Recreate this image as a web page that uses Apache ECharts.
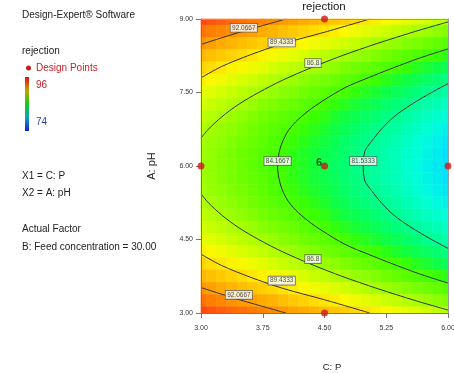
<!DOCTYPE html>
<html>
<head>
<meta charset="utf-8">
<script src="https://cdn.jsdelivr.net/npm/echarts@6/dist/echarts.min.js"></script>
<style>
  html, body { margin: 0; padding: 0; background: #fff; }
  #chart { width: 454px; height: 373px; }
</style>
</head>
<body>
<div id="chart"></div>
<script>
// response surface (rows = pH from 9 down to 3, cols = P from 3 to 6)
const pLevels = [3, 3.125, 3.25, 3.375, 3.5, 3.625, 3.75, 3.875, 4, 4.125, 4.25, 4.375, 4.5,
  4.625, 4.75, 4.875, 5, 5.125, 5.25, 5.375, 5.5, 5.625, 5.75, 5.875, 6];
const phLevels = [9, 8.75, 8.5, 8.25, 8, 7.75, 7.5, 7.25, 7, 6.75, 6.5, 6.25, 6,
  5.75, 5.5, 5.25, 5, 4.75, 4.5, 4.25, 4, 3.75, 3.5, 3.25, 3];
const rejection = [
  [94.7,94.3,94.0,93.7,93.4,93.1,92.8,92.5,92.1,91.8,91.5,91.2,90.9,90.6,90.3,90.0,89.6,89.3,89.0,88.7,88.4,88.1,87.8,87.4,87.1],
  [93.4,93.0,92.7,92.4,92.1,91.8,91.5,91.2,90.8,90.5,90.2,89.9,89.6,89.3,89.0,88.7,88.3,88.0,87.7,87.4,87.1,86.8,86.5,86.1,85.8],
  [92.2,91.9,91.5,91.2,90.9,90.6,90.3,90.0,89.7,89.3,89.0,88.7,88.4,88.1,87.8,87.5,87.1,86.8,86.5,86.2,85.9,85.6,85.3,85.0,84.6],
  [91.1,90.8,90.5,90.2,89.8,89.5,89.2,88.9,88.6,88.3,88.0,87.6,87.3,87.0,86.7,86.4,86.1,85.8,85.4,85.1,84.8,84.5,84.2,83.9,83.6],
  [90.1,89.8,89.5,89.2,88.9,88.6,88.3,87.9,87.6,87.3,87.0,86.7,86.4,86.1,85.7,85.4,85.1,84.8,84.5,84.2,83.9,83.5,83.2,82.9,82.6],
  [89.3,89.0,88.7,88.3,88.0,87.7,87.4,87.1,86.8,86.5,86.1,85.8,85.5,85.2,84.9,84.6,84.3,84.0,83.6,83.3,83.0,82.7,82.4,82.1,81.8],
  [88.5,88.2,87.9,87.6,87.3,87.0,86.7,86.4,86.0,85.7,85.4,85.1,84.8,84.5,84.2,83.8,83.5,83.2,82.9,82.6,82.3,82.0,81.6,81.3,81.0],
  [87.9,87.6,87.3,87.0,86.7,86.4,86.0,85.7,85.4,85.1,84.8,84.5,84.2,83.8,83.5,83.2,82.9,82.6,82.3,82.0,81.7,81.3,81.0,80.7,80.4],
  [87.4,87.1,86.8,86.5,86.2,85.8,85.5,85.2,84.9,84.6,84.3,84.0,83.7,83.3,83.0,82.7,82.4,82.1,81.8,81.5,81.1,80.8,80.5,80.2,79.9],
  [87.0,86.7,86.4,86.1,85.8,85.4,85.1,84.8,84.5,84.2,83.9,83.6,83.3,82.9,82.6,82.3,82.0,81.7,81.4,81.1,80.7,80.4,80.1,79.8,79.5],
  [86.7,86.4,86.1,85.8,85.5,85.2,84.9,84.5,84.2,83.9,83.6,83.3,83.0,82.7,82.3,82.0,81.7,81.4,81.1,80.8,80.5,80.1,79.8,79.5,79.2],
  [86.6,86.3,85.9,85.6,85.3,85.0,84.7,84.4,84.1,83.7,83.4,83.1,82.8,82.5,82.2,81.9,81.5,81.2,80.9,80.6,80.3,80.0,79.7,79.4,79.0],
  [86.5,86.2,85.9,85.6,85.3,84.9,84.6,84.3,84.0,83.7,83.4,83.1,82.8,82.4,82.1,81.8,81.5,81.2,80.9,80.6,80.2,79.9,79.6,79.3,79.0],
  [86.6,86.3,85.9,85.6,85.3,85.0,84.7,84.4,84.1,83.7,83.4,83.1,82.8,82.5,82.2,81.9,81.5,81.2,80.9,80.6,80.3,80.0,79.7,79.4,79.0],
  [86.7,86.4,86.1,85.8,85.5,85.2,84.9,84.5,84.2,83.9,83.6,83.3,83.0,82.7,82.3,82.0,81.7,81.4,81.1,80.8,80.5,80.1,79.8,79.5,79.2],
  [87.0,86.7,86.4,86.1,85.8,85.4,85.1,84.8,84.5,84.2,83.9,83.6,83.3,82.9,82.6,82.3,82.0,81.7,81.4,81.1,80.7,80.4,80.1,79.8,79.5],
  [87.4,87.1,86.8,86.5,86.2,85.8,85.5,85.2,84.9,84.6,84.3,84.0,83.7,83.3,83.0,82.7,82.4,82.1,81.8,81.5,81.1,80.8,80.5,80.2,79.9],
  [87.9,87.6,87.3,87.0,86.7,86.4,86.0,85.7,85.4,85.1,84.8,84.5,84.2,83.8,83.5,83.2,82.9,82.6,82.3,82.0,81.7,81.3,81.0,80.7,80.4],
  [88.5,88.2,87.9,87.6,87.3,87.0,86.7,86.4,86.0,85.7,85.4,85.1,84.8,84.5,84.2,83.8,83.5,83.2,82.9,82.6,82.3,82.0,81.6,81.3,81.0],
  [89.3,89.0,88.7,88.3,88.0,87.7,87.4,87.1,86.8,86.5,86.1,85.8,85.5,85.2,84.9,84.6,84.3,84.0,83.6,83.3,83.0,82.7,82.4,82.1,81.8],
  [90.1,89.8,89.5,89.2,88.9,88.6,88.3,87.9,87.6,87.3,87.0,86.7,86.4,86.1,85.7,85.4,85.1,84.8,84.5,84.2,83.9,83.5,83.2,82.9,82.6],
  [91.1,90.8,90.5,90.2,89.8,89.5,89.2,88.9,88.6,88.3,88.0,87.6,87.3,87.0,86.7,86.4,86.1,85.8,85.4,85.1,84.8,84.5,84.2,83.9,83.6],
  [92.2,91.9,91.5,91.2,90.9,90.6,90.3,90.0,89.7,89.3,89.0,88.7,88.4,88.1,87.8,87.5,87.1,86.8,86.5,86.2,85.9,85.6,85.3,85.0,84.6],
  [93.4,93.0,92.7,92.4,92.1,91.8,91.5,91.2,90.8,90.5,90.2,89.9,89.6,89.3,89.0,88.7,88.3,88.0,87.7,87.4,87.1,86.8,86.5,86.1,85.8],
  [94.7,94.3,94.0,93.7,93.4,93.1,92.8,92.5,92.1,91.8,91.5,91.2,90.9,90.6,90.3,90.0,89.6,89.3,89.0,88.7,88.4,88.1,87.8,87.4,87.1]
];

// contour lines, [P, pH]
const contourPaths = [
  // 92.0667
  [[3.0, 8.48], [3.22, 8.6], [3.51, 8.75], [3.82, 8.9], [4.03, 9.0]],
  [[3.0, 3.52], [3.22, 3.4], [3.51, 3.25], [3.82, 3.1], [4.03, 3.0]],
  // 89.4333
  [[3.0, 7.8], [3.25, 8.03], [3.6, 8.27], [4.0, 8.5], [4.5, 8.73], [5.05, 9.0]],
  [[3.0, 4.2], [3.25, 3.97], [3.6, 3.73], [4.0, 3.5], [4.5, 3.27], [5.05, 3.0]],
  // 86.8
  [[6.0, 8.94], [5.61, 8.75], [5.14, 8.5], [4.71, 8.25], [4.33, 8.0], [3.99, 7.75],
   [3.7, 7.5], [3.45, 7.25], [3.25, 7.0], [3.09, 6.75], [3.0, 6.57]],
  [[3.0, 5.43], [3.09, 5.25], [3.25, 5.0], [3.45, 4.75], [3.7, 4.5], [3.99, 4.25],
   [4.33, 4.0], [4.71, 3.75], [5.14, 3.5], [5.61, 3.25], [6.0, 3.06]],
  // 84.1667
  [[6.0, 8.39], [5.65, 8.2], [5.3, 7.98], [5.03, 7.8], [4.75, 7.6], [4.48, 7.33],
   [4.3, 7.12], [4.15, 6.9], [4.04, 6.67], [3.96, 6.35], [3.93, 6.0], [3.96, 5.65],
   [4.04, 5.33], [4.15, 5.1], [4.3, 4.88], [4.48, 4.67], [4.75, 4.4], [5.03, 4.2],
   [5.3, 4.02], [5.65, 3.8], [6.0, 3.61]],
  // 81.5333
  [[6.0, 7.68], [5.8, 7.5], [5.55, 7.25], [5.34, 7.0], [5.19, 6.75], [5.07, 6.5],
   [4.99, 6.3], [4.97, 6.0], [4.99, 5.7], [5.07, 5.5], [5.19, 5.25], [5.34, 5.0],
   [5.55, 4.75], [5.8, 4.5], [6.0, 4.32]]
];

// contour labels [P, pH, text]
const contourLabels = [
  [3.52, 8.82, '92.0667'], [3.46, 3.37, '92.0667'],
  [3.98, 8.52, '89.4333'], [3.98, 3.66, '89.4333'],
  [4.36, 8.1, '86.8'], [4.36, 4.1, '86.8'],
  [3.93, 6.1, '84.1667'], [4.97, 6.1, '81.5333']
];

// design points [P, pH, runs]
const designPoints = [[3, 6, 1], [4.5, 9, 1], [4.5, 6, 6], [6, 6, 1], [4.5, 3, 1]];

const pTicks = { min: 3, max: 6, step: 0.75 };
const phTicks = { min: 3, max: 9, step: 1.5 };

// one colour per unit from 74 to 96
const colorScale = [
  '#0000ff', '#0028ff', '#0055ff', '#0085ff', '#00b4ff', '#00e0ff', '#00ffd8',
  '#00ffa8', '#00ff78', '#10ff40', '#3cff00', '#62ff00', '#88ff00', '#b0ff00',
  '#d8ff00', '#fcf800', '#ffd800', '#ffba00', '#ff9c00', '#ff7e00', '#ff5e10',
  '#ff3a10', '#ff1010'
];

const FONT = "'Liberation Sans', Arial, sans-serif";

const cells = [];
phLevels.forEach((ph, r) => {
  pLevels.forEach((p, c) => cells.push([p, ph, rejection[r][c]]));
});

const dP = pLevels[1] - pLevels[0];
const dPh = phLevels[0] - phLevels[1];

function renderCell(params, api) {
  const p = api.value(0), ph = api.value(1);
  const a = api.coord([p - dP / 2, ph + dPh / 2]);
  const b = api.coord([p + dP / 2, ph - dPh / 2]);
  const cs = params.coordSys;
  const shape = echarts.graphic.clipRectByRect(
    { x: a[0], y: a[1], width: b[0] - a[0], height: b[1] - a[1] },
    { x: cs.x, y: cs.y, width: cs.width, height: cs.height }
  );
  if (!shape) return;
  const color = api.visual('color');
  return { type: 'rect', shape, style: { fill: color, stroke: color, lineWidth: 0.6 } };
}

const chart = echarts.init(document.getElementById('chart'), null, { renderer: 'canvas' });

const lineSeries = contourPaths.map(path => ({
  type: 'line',
  data: path,
  symbol: 'none',
  smooth: 0.3,
  silent: true,
  lineStyle: { color: '#333', width: 1 },
  z: 3
}));

const legendText = (text, x, y, fill) => ({
  type: 'text', x, y,
  style: { text, fontSize: 10, fontFamily: FONT, fill: fill || '#222', verticalAlign: 'middle' }
});

chart.setOption({
  animation: false,
  title: {
    text: 'rejection',
    left: 324, top: 1, padding: 0, textAlign: 'center',
    textStyle: { fontSize: 11.5, fontWeight: 'normal', color: '#222', fontFamily: FONT }
  },
  grid: { left: 201, top: 19, width: 247, height: 294, outerBoundsMode: 'none', containLabel: false },
  xAxis: [{
    type: 'value', min: pTicks.min, max: pTicks.max, interval: pTicks.step,
    name: 'C: P', nameLocation: 'middle', nameGap: 49,
    nameTextStyle: { fontSize: 9.5, color: '#222', fontFamily: FONT, padding: [0, 0, 0, 15] },
    axisLine: { lineStyle: { color: '#777' } },
    axisTick: { length: 5, lineStyle: { color: '#777' } },
    axisLabel: { fontSize: 7, color: '#333', fontFamily: FONT, margin: 12, formatter: v => v.toFixed(2) },
    splitLine: { show: false },
    z: 5
  }, {
    type: 'value', position: 'top', min: pTicks.min, max: pTicks.max,
    axisLine: { show: true, lineStyle: { color: '#9a9a9a' } },
    axisTick: { show: false }, axisLabel: { show: false }, splitLine: { show: false },
    z: 5
  }],
  yAxis: [{
    type: 'value', min: phTicks.min, max: phTicks.max, interval: phTicks.step,
    name: 'A: pH', nameLocation: 'middle', nameGap: 44,
    nameTextStyle: { fontSize: 11, color: '#222', fontFamily: FONT },
    axisLine: { show: true, lineStyle: { color: '#777' } },
    axisTick: { show: true, length: 5, lineStyle: { color: '#777' } },
    axisLabel: { fontSize: 7, color: '#333', fontFamily: FONT, margin: 8, formatter: v => v.toFixed(2) },
    splitLine: { show: false },
    z: 5
  }, {
    type: 'value', position: 'right', min: phTicks.min, max: phTicks.max,
    axisLine: { show: true, lineStyle: { color: '#9a9a9a' } },
    axisTick: { show: false }, axisLabel: { show: false }, splitLine: { show: false },
    z: 5
  }],
  visualMap: {
    show: false, type: 'continuous', min: 74, max: 96, dimension: 2, seriesIndex: 0,
    inRange: { color: colorScale }
  },
  graphic: [
    legendText('Design-Expert® Software', 22, 15.5),
    legendText('rejection', 22, 51),
    { type: 'circle', shape: { cx: 28.5, cy: 68, r: 2.5 }, style: { fill: '#cc1a1a' } },
    legendText('Design Points', 36, 68, '#c8202a'),
    {
      type: 'rect', shape: { x: 25, y: 77, width: 4, height: 54 },
      style: {
        fill: new echarts.graphic.LinearGradient(0, 0, 0, 1, [
          { offset: 0, color: '#e01010' },
          { offset: 0.25, color: '#c8a000' },
          { offset: 0.5, color: '#10d010' },
          { offset: 0.75, color: '#10a0c0' },
          { offset: 1, color: '#1020d0' }
        ])
      }
    },
    legendText('96', 36, 85, '#c8202a'),
    legendText('74', 36, 122, '#2f3fa8'),
    legendText('X1 = C: P', 22, 176),
    legendText('X2 = A: pH', 22, 193),
    legendText('Actual Factor', 22, 229),
    legendText('B: Feed concentration = 30.00', 22, 247.5)
  ],
  series: [
    {
      type: 'custom',
      renderItem: renderCell,
      data: cells,
      encode: { x: 0, y: 1 },
      silent: true,
      z: 1
    },
    ...lineSeries,
    {
      type: 'scatter',
      data: contourLabels,
      symbol: 'rect', symbolSize: 1,
      itemStyle: { color: 'rgba(0,0,0,0)' },
      silent: true,
      label: {
        show: true, position: 'inside',
        formatter: p => p.data[2],
        fontSize: 6.5, fontFamily: FONT, color: '#222',
        backgroundColor: '#fff', borderColor: '#555', borderWidth: 0.8,
        padding: [1, 1.5, 0, 1.5]
      },
      z: 6
    },
    {
      type: 'scatter',
      data: designPoints,
      symbolSize: 7,
      clip: false,
      itemStyle: { color: '#cc1a1a' },
      label: {
        show: true, position: 'left', distance: 0, offset: [1, -3],
        formatter: p => (p.data[2] > 1 ? String(p.data[2]) : ''),
        fontSize: 11, fontWeight: 'bold', color: '#1d2a1d', fontFamily: FONT
      },
      z: 20
    }
  ]
});
</script>
</body>
</html>
